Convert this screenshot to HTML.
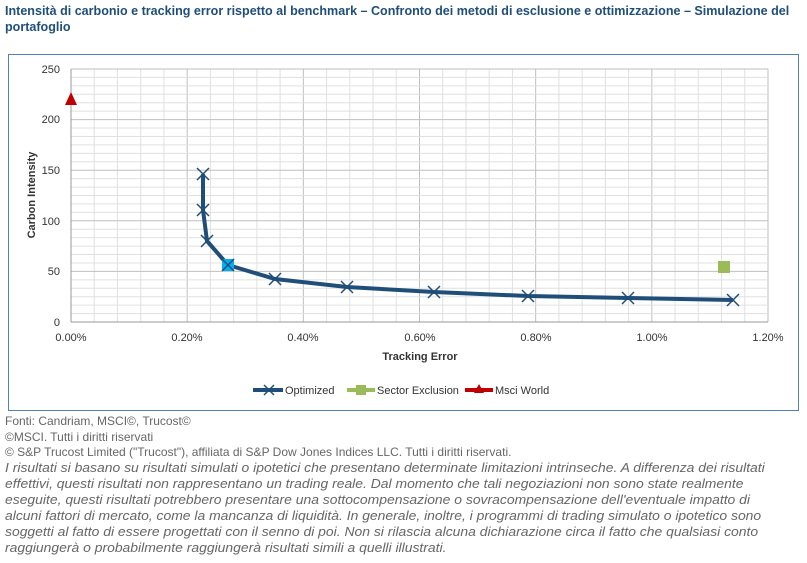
<!DOCTYPE html>
<html><head><meta charset="utf-8"><style>
body{margin:0;width:807px;height:563px;background:#fff;overflow:hidden;font-family:"Liberation Sans",sans-serif;}
.title{position:absolute;left:5px;top:3px;font-weight:bold;font-size:13px;line-height:16px;color:#1f4e79;white-space:nowrap;transform-origin:0 0;transform:scaleX(0.965);}
.foot{position:absolute;left:5px;color:#666;font-size:12px;line-height:15.5px;white-space:nowrap;}
.it{position:absolute;left:5px;top:460px;color:#666;font-style:italic;font-size:13px;line-height:16px;white-space:nowrap;transform-origin:0 0;transform:scaleX(1.07);}
</style></head><body>
<div class="title">Intensità di carbonio e tracking error rispetto al benchmark – Confronto dei metodi di esclusione e ottimizzazione – Simulazione del<br>portafoglio</div>
<svg style="position:absolute;left:0;top:0" width="807" height="420">
<rect x="8.5" y="54.5" width="790" height="356" fill="#fff" stroke="#4f81bd" stroke-width="1"/>
<g id="g"></g>
<g font-size="11" fill="#333" font-family="Liberation Sans,sans-serif">
<text x="60" y="73" text-anchor="end">250</text>
<text x="60" y="123" text-anchor="end">200</text>
<text x="60" y="174" text-anchor="end">150</text>
<text x="60" y="225" text-anchor="end">100</text>
<text x="60" y="275" text-anchor="end">50</text>
<text x="60" y="326" text-anchor="end">0</text>
<text x="71" y="341" text-anchor="middle">0.00%</text>
<text x="187" y="341" text-anchor="middle">0.20%</text>
<text x="303" y="341" text-anchor="middle">0.40%</text>
<text x="420" y="341" text-anchor="middle">0.60%</text>
<text x="536" y="341" text-anchor="middle">0.80%</text>
<text x="652" y="341" text-anchor="middle">1.00%</text>
<text x="768" y="341" text-anchor="middle">1.20%</text>
<text x="420" y="360" text-anchor="middle" font-weight="bold">Tracking Error</text>
<text transform="translate(35,195) rotate(-90)" text-anchor="middle" font-weight="bold">Carbon Intensity</text>
</g>
<polyline fill="none" stroke="#1f4e79" stroke-width="4" stroke-linejoin="round" points="203,174 203,210 207,241 228,265 275,279 347,287 434,292 528,296 628,298 733,300"/>
<g stroke="#1f4e79" stroke-width="1.5" id="x"></g>
<rect x="222" y="259" width="12" height="12" fill="#00b0f0"/>
<path d="M222,259l12,12M234,259l-12,12" stroke="#1f4e79" stroke-width="1.5"/>
<rect x="718" y="261" width="12" height="12" fill="#9bbb59"/>
<polygon points="71,92 65,105 77,105" fill="#c00000"/>
<line x1="253" y1="390" x2="283" y2="390" stroke="#1f4e79" stroke-width="4"/>
<path d="M264,385l10,10M274,385l-10,10" stroke="#1f4e79" stroke-width="1.5"/>
<line x1="347" y1="390" x2="375" y2="390" stroke="#9bbb59" stroke-width="4"/>
<rect x="356" y="385" width="10" height="10" fill="#9bbb59"/>
<line x1="465" y1="390" x2="493" y2="390" stroke="#c00000" stroke-width="4"/>
<polygon points="479,384 474,393 484,393" fill="#c00000"/>
<g font-size="11" fill="#333"><text x="285" y="394">Optimized</text><text x="377" y="394">Sector Exclusion</text><text x="495" y="394">Msci World</text></g>
</svg>
<div class="foot" style="top:414px">Fonti: Candriam, MSCI©, Trucost©</div>
<div class="foot" style="top:429.5px">©MSCI. Tutti i diritti riservati</div>
<div class="foot" style="top:445px">© S&amp;P Trucost Limited ("Trucost"), affiliata di S&amp;P Dow Jones Indices LLC. Tutti i diritti riservati.</div>
<div class="it">I risultati si basano su risultati simulati o ipotetici che presentano determinate limitazioni intrinseche. A differenza dei risultati<br>effettivi, questi risultati non rappresentano un trading reale. Dal momento che tali negoziazioni non sono state realmente<br>eseguite, questi risultati potrebbero presentare una sottocompensazione o sovracompensazione dell'eventuale impatto di<br>alcuni fattori di mercato, come la mancanza di liquidità. In generale, inoltre, i programmi di trading simulato o ipotetico sono<br>soggetti al fatto di essere progettati con il senno di poi. Non si rilascia alcuna dichiarazione circa il fatto che qualsiasi conto<br>raggiungerà o probabilmente raggiungerà risultati simili a quelli illustrati.</div>
<script>
var g=document.getElementById("g"),s="";
for(var i=0;i<=30;i++){var x=71+i*697/30;s+='<line x1="'+x+'" y1="69" x2="'+x+'" y2="322" stroke="'+(i%5==0?'#bfbfbf':'#e0e0e0')+'"/>';}
for(var j=0;j<=30;j++){var y=69+j*253/30;s+='<line x1="71" y1="'+y+'" x2="768" y2="'+y+'" stroke="'+(j%6==0?'#bfbfbf':'#e0e0e0')+'"/>';}
s+='<line x1="71" y1="69" x2="71" y2="322" stroke="#999"/><line x1="71" y1="322" x2="768" y2="322" stroke="#999"/>';
g.innerHTML=s;
var pts=[[203,174],[203,210],[207,241],[275,279],[347,287],[434,292],[528,296],[628,298],[733,300]],t="";
pts.forEach(function(p){t+='<path d="M'+(p[0]-6)+','+(p[1]-6)+'l12,12M'+(p[0]+6)+','+(p[1]-6)+'l-12,12"/>';});
document.getElementById("x").innerHTML=t;
</script>
</body></html>
